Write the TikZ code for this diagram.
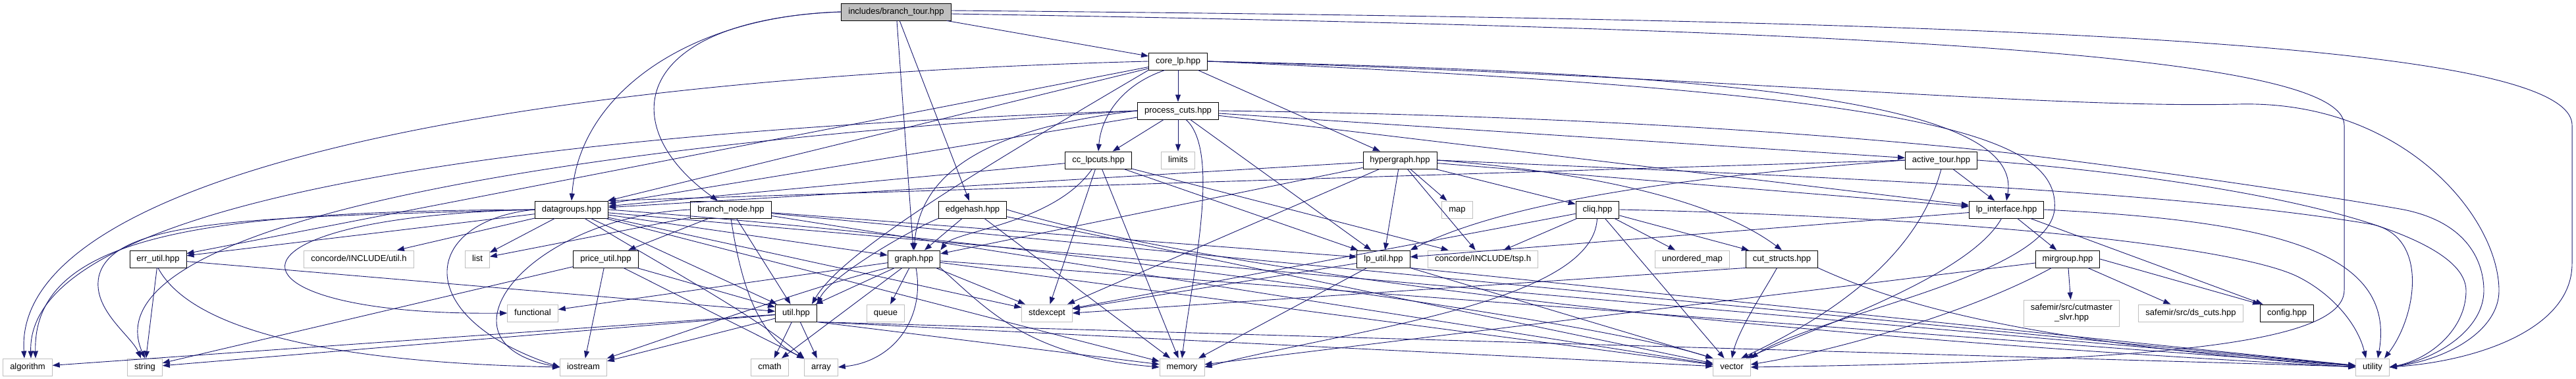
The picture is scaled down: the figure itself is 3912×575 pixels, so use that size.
\documentclass[tikz,border=0pt]{standalone}
\usepackage{fontspec}
\setmainfont{Liberation Sans}
\usetikzlibrary{arrows.meta}
\definecolor{depblue}{HTML}{191970}
\definecolor{grey75}{HTML}{BFBFBF}
\tikzset{
  >={Triangle[length=11pt,width=8pt]},
  filebox/.style={line width=0.9pt, fill=white, minimum height=26pt, inner xsep=10.5pt, inner ysep=0pt, font=\fontsize{13}{15}\selectfont},
  hdr/.style={filebox, draw=black, text height=9.5pt, text depth=2.8pt},
  syshdr/.style={filebox, draw=grey75, text height=9.5pt, text depth=2.8pt},
  roothdr/.style={hdr, fill=grey75},
  dep/.style={->, draw=depblue, line width=0.9pt},
}

\begin{document}
\begin{tikzpicture}[x=1pt, y=-1pt]
    \useasboundingbox (0,0) rectangle (3912,575);

    % header files, row by row
    \node[roothdr] (tour) at (1361,18) {includes/branch\_tour.hpp};
    \node[hdr] (corelp) at (1789,93) {core\_lp.hpp};
    \node[hdr] (proccuts) at (1789,168) {process\_cuts.hpp};

    \node[hdr] (cclpcuts) at (1668,243) {cc\_lpcuts.hpp};
    \node[syshdr] (limits) at (1789,243) {limits};
    \node[hdr] (hyper) at (2126,243) {hypergraph.hpp};
    \node[hdr] (active) at (2948,243) {active\_tour.hpp};

    \node[hdr] (datagrp) at (868,318) {datagroups.hpp};
    \node[hdr] (brnode) at (1110,318) {branch\_node.hpp};
    \node[hdr] (edgehash) at (1477,318) {edgehash.hpp};
    \node[syshdr] (map) at (2213,318) {map};
    \node[hdr] (cliq) at (2426,318) {cliq.hpp};
    \node[hdr] (lpiface) at (3047,318) {lp\_interface.hpp};

    \node[hdr] (errutil) at (240,393) {err\_util.hpp};
    \node[syshdr] (ccutil) at (545,393) {concorde/INCLUDE/util.h};
    \node[syshdr] (list) at (725,393) {list};
    \node[hdr] (priceutil) at (920,393) {price\_util.hpp};
    \node[hdr] (graph) at (1388,393) {graph.hpp};
    \node[hdr] (lputil) at (2101,393) {lp\_util.hpp};
    \node[syshdr] (tsph) at (2252,393) {concorde/INCLUDE/tsp.h};
    \node[syshdr] (umap) at (2570,393) {unordered\_map};
    \node[hdr] (cutstr) at (2706,393) {cut\_structs.hpp};
    \node[hdr] (mirgrp) at (3140,393) {mirgroup.hpp};

    \node[syshdr] (functional) at (809,475) {functional};
    \node[hdr] (util) at (1209,475) {util.hpp};
    \node[syshdr] (queue) at (1345,475) {queue};
    \node[syshdr] (stdexcept) at (1590,475) {stdexcept};
    \node[filebox, draw=grey75, align=center, minimum height=40pt] (cutmaster) at (3146,475) {safemir/src/cutmaster\\\_slvr.hpp};
    \node[syshdr] (dscuts) at (3327,475) {safemir/src/ds\_cuts.hpp};
    \node[hdr] (config) at (3473,475) {config.hpp};

    \node[syshdr] (algorithm) at (42,557) {algorithm};
    \node[syshdr] (string) at (220,557) {string};
    \node[syshdr] (iostream) at (886,557) {iostream};
    \node[syshdr] (cmath) at (1169,557) {cmath};
    \node[syshdr] (array) at (1247,557) {array};
    \node[syshdr] (memory) at (1795,557) {memory};
    \node[syshdr] (vector) at (2630,557) {vector};
    \node[syshdr] (utility) at (3603,557) {utility};

    % branch_tour.hpp
    \draw[dep] (tour) -- (corelp);
    \draw[dep] (tour.west) .. controls (1050,24) and (880,140) .. (datagrp.north);
    \draw[dep] (tour.west) .. controls (960,30) and (930,190) .. ([xshift=-20pt]brnode.north);
    \draw[dep] (tour) -- (edgehash);
    \draw[dep] (tour) -- (graph);
    \draw[dep] ([yshift=-3pt]tour.east) .. controls (2900,45) and (3560,85) .. (3560,190) -- (3560,440) .. controls (3560,525) and (3250,548) .. (vector.east);
    \draw[dep] ([yshift=2pt]tour.east) .. controls (3000,30) and (3906,60) .. (3906,190) -- (3906,400) .. controls (3906,500) and (3760,548) .. (utility.east);

    % core_lp.hpp
    \draw[dep] (corelp) -- (proccuts);
    \draw[dep] ([xshift=-20pt]corelp.south) .. controls (1700,130) and (1672,180) .. (cclpcuts.north);
    \draw[dep] (corelp) -- (hyper);
    \draw[dep] (corelp.east) .. controls (2600,110) and (3075,150) .. (lpiface.north);
    \draw[dep] (corelp) -- (datagrp);
    \draw[dep] (corelp) -- (errutil);
    \draw[dep] (corelp.south west) .. controls (1500,250) and (1280,380) .. ([xshift=-8pt]util.north east);
    \draw[dep] (corelp.west) .. controls (700,120) and (20,280) .. ([xshift=-5pt]algorithm.north);
    \draw[dep] (corelp.east) .. controls (2900,140) and (3130,200) .. (3120,318) .. controls (3110,420) and (2750,480) .. (vector.north east);
    \draw[dep] (corelp.east) .. controls (2600,115) and (3100,165) .. (3400,158) .. controls (3650,152) and (3795,330) .. (3795,441) .. controls (3795,500) and (3720,545) .. (utility.east);

    % process_cuts.hpp
    \draw[dep] (proccuts) -- (cclpcuts);
    \draw[dep] (proccuts) -- (limits);
    \draw[dep] ([xshift=12pt]proccuts.south) .. controls (1855,230) and (1810,420) .. (memory.north);
    \draw[dep] (proccuts) -- (datagrp);
    \draw[dep] (proccuts.west) .. controls (1450,200) and (1395,290) .. (graph.north);
    \draw[dep] (proccuts.west) .. controls (800,200) and (40,300) .. ([xshift=5pt]algorithm.north);
    \draw[dep] (proccuts.west) .. controls (700,230) and (140,360) .. (string.north);
    \draw[dep] (proccuts) -- (lputil);
    \draw[dep] (proccuts) -- (active);
    \draw[dep] (proccuts) -- (lpiface);
    \draw[dep] (proccuts.east) .. controls (2400,175) and (2800,205) .. (3050,232) .. controls (3300,262) and (3550,300) .. (3650,318) .. controls (3750,338) and (3772,400) .. (3772,441) .. controls (3772,500) and (3700,545) .. (utility.east);

    % cc_lpcuts.hpp
    \draw[dep] (cclpcuts) .. controls (1600,340) and (1450,350) .. (graph.north east);
    \draw[dep] (cclpcuts) -- (stdexcept);
    \draw[dep] (cclpcuts) -- (memory);
    \draw[dep] (cclpcuts) -- (datagrp);
    \draw[dep] (cclpcuts) -- (lputil);
    \draw[dep] (cclpcuts) -- (tsph);

    % hypergraph.hpp
    \draw[dep] (hyper) -- (datagrp);
    \draw[dep] (hyper) -- (graph);
    \draw[dep] (hyper) -- (stdexcept);
    \draw[dep] (hyper) -- (lputil);
    \draw[dep] (hyper) -- (tsph);
    \draw[dep] (hyper) -- (map);
    \draw[dep] (hyper) -- (cliq);
    \draw[dep] (hyper.east) .. controls (2400,260) and (2600,300) .. (cutstr.north);
    \draw[dep] (hyper) -- (lpiface);
    \draw[dep] (hyper.east) .. controls (2800,270) and (3300,290) .. (3600,340) .. controls (3690,357) and (3670,480) .. ([xshift=18pt]utility.north);

    % cliq.hpp
    \draw[dep] (cliq) -- (stdexcept);
    \draw[dep] (cliq) -- (tsph);
    \draw[dep] (cliq) .. controls (2420,460) and (2050,500) .. (memory.east);
    \draw[dep] (cliq) -- (vector);
    \draw[dep] (cliq) -- (umap);
    \draw[dep] (cliq) -- (cutstr);
    \draw[dep] (cliq.east) .. controls (3000,330) and (3400,375) .. (3490,420) .. controls (3540,445) and (3580,490) .. ([xshift=-10pt]utility.north);

    % active_tour.hpp
    \draw[dep] (active) -- (lpiface);
    \draw[dep] (active.west) .. controls (2600,265) and (2300,300) .. (lputil.north east);
    \draw[dep] (active.west) -- (datagrp.north east);
    \draw[dep] (active.south) .. controls (2915,380) and (2800,470) .. ([xshift=14pt]vector.north);
    \draw[dep] (active.east) .. controls (3300,265) and (3745,330) .. (3745,441) .. controls (3745,500) and (3690,545) .. (utility.east);

    % lp_interface.hpp
    \draw[dep] (lpiface) -- (mirgrp);
    \draw[dep] (lpiface) -- (config);
    \draw[dep] (lpiface) -- (lputil);
    \draw[dep] (lpiface) .. controls (2990,420) and (2750,500) .. ([xshift=22pt]vector.north);
    \draw[dep] (lpiface.east) .. controls (3450,335) and (3640,380) .. ([xshift=8pt]utility.north);

    % mirgroup.hpp
    \draw[dep] (mirgrp) -- (cutmaster);
    \draw[dep] (mirgrp) -- (dscuts);
    \draw[dep] (mirgrp.east) -- (config.north west);
    \draw[dep] (mirgrp) -- (memory);
    \draw[dep] (mirgrp) .. controls (3000,470) and (2800,530) .. ([yshift=4pt]vector.east);

    % cut_structs.hpp
    \draw[dep] (cutstr) .. controls (2680,440) and (2640,500) .. (vector.north);
    \draw[dep] (cutstr.south east) .. controls (2900,470) and (3100,520) .. (utility.west);
    \draw[dep] (cutstr.south west) -- (stdexcept.east);

    % datagroups.hpp
    \draw[dep] (datagrp) -- (errutil);
    \draw[dep] (datagrp) -- (ccutil);
    \draw[dep] (datagrp) -- (list);
    \draw[dep] (datagrp.west) .. controls (300,320) and (50,360) .. ([xshift=12pt]algorithm.north);
    \draw[dep] (datagrp.west) .. controls (400,330) and (170,330) .. (150,420) .. controls (140,470) and (200,510) .. ([xshift=-6pt]string.north);
    \draw[dep] (datagrp.west) .. controls (300,330) and (330,480) .. (functional.west);
    \draw[dep] (datagrp.west) .. controls (640,335) and (620,480) .. (iostream.west);
    \draw[dep] (datagrp) -- (util);
    \draw[dep] (datagrp) -- (graph);
    \draw[dep] (datagrp) -- (stdexcept);
    \draw[dep] (datagrp) -- (memory);
    \draw[dep] ([xshift=20pt]datagrp.south) .. controls (1000,400) and (1150,480) .. (array.north west);
    \draw[dep] (datagrp.east) .. controls (1500,360) and (2400,480) .. (vector.north west);
    \draw[dep] (datagrp) -- (utility);

    % branch_node.hpp
    \draw[dep] (brnode) -- (list);
    \draw[dep] (brnode) -- (priceutil);
    \draw[dep] (brnode.west) .. controls (800,330) and (650,520) .. (iostream.west);
    \draw[dep] (brnode) -- (util);
    \draw[dep] (brnode.south) .. controls (1125,430) and (1150,510) .. (array.north west);
    \draw[dep] (brnode) -- (lputil);
    \draw[dep] (brnode) -- (vector);
    \draw[dep] (brnode) -- (utility);

    % edgehash.hpp
    \draw[dep] (edgehash) -- (graph);
    \draw[dep] (edgehash.south west) .. controls (1380,350) and (1260,420) .. (util.north east);
    \draw[dep] (edgehash) -- (memory);
    \draw[dep] (edgehash) -- (vector);
    \draw[dep] (edgehash.east) .. controls (1800,400) and (2500,500) .. (utility.west);

    % price_util.hpp
    \draw[dep] (priceutil) -- (string);
    \draw[dep] (priceutil) -- (iostream);
    \draw[dep] (priceutil) -- (util);
    \draw[dep] (priceutil) -- (array);

    % err_util.hpp
    \draw[dep] (errutil) -- (string);
    \draw[dep] (errutil.south) .. controls (290,500) and (500,550) .. (iostream.west);
    \draw[dep] (errutil) -- (util);

    % graph.hpp
    \draw[dep] (graph) -- (functional);
    \draw[dep] (graph) -- (util);
    \draw[dep] (graph) -- (queue);
    \draw[dep] (graph) -- (stdexcept);
    \draw[dep] (graph.south west) .. controls (1250,430) and (1050,500) .. (iostream.north east);
    \draw[dep] (graph) -- (cmath);
    \draw[dep] ([xshift=3pt]graph.south) .. controls (1405,480) and (1360,548) .. (array.east);
    \draw[dep] (graph.south east) .. controls (1500,470) and (1560,540) .. (memory.west);
    \draw[dep] (graph) -- (vector);
    \draw[dep] (graph) -- (utility);

    % util.hpp
    \draw[dep] (util) -- (algorithm);
    \draw[dep] (util) -- (string);
    \draw[dep] (util) -- (iostream);
    \draw[dep] (util) -- (cmath);
    \draw[dep] (util) -- (array);
    \draw[dep] (util.south east) -- (memory);
    \draw[dep] (util.south east) -- (vector);
    \draw[dep] (util.south east) -- (utility);

    % lp_util.hpp
    \draw[dep] (lputil) -- (stdexcept);
    \draw[dep] (lputil) -- (memory);
    \draw[dep] (lputil.south east) -- (vector.north west);
    \draw[dep] (lputil.south east) -- (utility);
\end{tikzpicture}
\end{document}
